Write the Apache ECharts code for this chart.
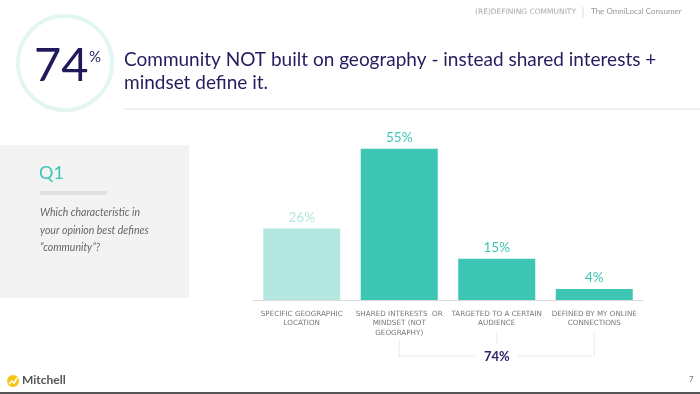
<!DOCTYPE html>
<html><head><meta charset="utf-8">
<script src="https://cdn.jsdelivr.net/npm/echarts@6/dist/echarts.min.js"></script>
<style>html,body{margin:0;padding:0;background:#fff}#c{width:700px;height:394px}</style>
</head><body><div id="c"></div>
<script>
const categories = ["SPECIFIC GEOGRAPHIC\nLOCATION", "SHARED INTERESTS  OR\nMINDSET (NOT\nGEOGRAPHY)", "TARGETED TO A CERTAIN\nAUDIENCE", "DEFINED BY MY ONLINE\nCONNECTIONS"];
const values = [26, 55, 15, 4];
const barColors = ["#b4e7df", "#3ec6b4", "#3ec6b4", "#3ec6b4"];
const labelColors = ["#b4e7df", "#3ec6b4", "#3ec6b4", "#3ec6b4"];
const headline = "74";
const totalLabel = "74%";
const FONT = "Lato";

const chart = echarts.init(document.getElementById('c'), null, {renderer: 'canvas'});
const option = {
  animation: false,
  grid: {left: 253, right: 57, top: 135, bottom: 94},
  xAxis: {
    type: 'category', data: categories,
    axisLine: {lineStyle: {color: '#dcdcdc', width: 1}},
    axisTick: {show: false},
    axisLabel: {interval: 0, color: '#777', fontSize: 7.2, fontFamily: 'DejaVu Sans', lineHeight: 9.5, margin: 9, align: 'center'}
  },
  yAxis: {type: 'value', min: 0, max: 60, show: false, splitLine: {show: false}},
  series: [{
    type: 'bar', barWidth: '79%',
    data: values.map((v, i) => ({value: v, itemStyle: {color: barColors[i]}, label: {color: labelColors[i]}})),
    label: {show: true, position: 'top', distance: 4, formatter: '{c}%', fontSize: 13.5, fontFamily: FONT}
  }],
  graphic: [
    {type: 'circle', shape: {cx: 65, cy: 63, r: 47}, style: {fill: 'none', stroke: '#e4f6f2', lineWidth: 4}},
    {type: 'text', left: 34, top: 42, style: {text: headline, font: '47px ' + FONT, fill: '#1f1a5c'}},
    {type: 'text', left: 89, top: 50, style: {text: '%', font: '15px ' + FONT, fill: '#1f1a5c'}},
    {type: 'text', left: 124, top: 48, style: {text: 'Community NOT built on geography - instead shared interests +\nmindset define it.', font: '19px ' + FONT, fill: '#231d5e', lineHeight: 23}},
    {type: 'line', shape: {x1: 124, y1: 109, x2: 700, y2: 109}, style: {stroke: '#e0e0e0', lineWidth: 1}},
    {type: 'text', left: 475, top: 8, style: {text: '(RE)DEFINING COMMUNITY', font: '7.5px DejaVu Sans', fill: '#aaa'}},
    {type: 'line', shape: {x1: 583, y1: 7, x2: 583, y2: 18}, style: {stroke: '#ddd', lineWidth: 1}},
    {type: 'text', left: 591, top: 7, style: {text: 'The OmniLocal Consumer', font: '8px ' + FONT, fill: '#999'}},
    {type: 'rect', shape: {x: 0, y: 145, width: 189, height: 153}, style: {fill: '#f3f3f3'}, z: -1},
    {type: 'text', left: 39, top: 164, style: {text: 'Q1', font: '18px ' + FONT, fill: '#3ec6b4'}},
    {type: 'rect', shape: {x: 40, y: 191, width: 67, height: 4}, style: {fill: '#e0e0e0'}},
    {type: 'text', left: 40, top: 204, style: {text: 'Which characteristic in\nyour opinion best defines\n\u201ccommunity\u201d?', font: 'italic 10.5px ' + FONT, fill: '#666', lineHeight: 17.5}},
    {type: 'circle', shape: {cx: 13, cy: 381, r: 6}, style: {fill: '#f5c518'}},
    {type: 'polyline', shape: {points: [[9, 384], [12, 381], [14, 383], [17, 378]]}, style: {stroke: '#fff', lineWidth: 1.5, fill: 'none'}},
    {type: 'text', left: 22, top: 374, style: {text: 'Mitchell', font: 'bold 12px ' + FONT, fill: '#555'}},
    {type: 'text', left: 689, top: 375, style: {text: '7', font: '8px ' + FONT, fill: '#777'}},
    {type: 'rect', shape: {x: 0, y: 392, width: 700, height: 2}, style: {fill: '#555'}}
  ]
};
chart.setOption(option);

// bracket summing categories 2-4
const xs = [1, 2, 3].map(i => chart.convertToPixel({xAxisIndex: 0}, i));
const by = 356;
const dot = {stroke: '#d8d8d8', lineWidth: 1, lineDash: [1, 1]};
chart.setOption({graphic: option.graphic.concat([
  {type: 'line', shape: {x1: xs[0], y1: 341, x2: xs[0], y2: by}, style: dot},
  {type: 'line', shape: {x1: xs[1], y1: 332, x2: xs[1], y2: 344}, style: dot},
  {type: 'line', shape: {x1: xs[2], y1: 332, x2: xs[2], y2: by}, style: dot},
  {type: 'line', shape: {x1: xs[0], y1: by, x2: xs[1] - 22, y2: by}, style: dot},
  {type: 'line', shape: {x1: xs[1] + 22, y1: by, x2: xs[2], y2: by}, style: dot},
  {type: 'text', x: xs[1], y: by + 1, style: {text: totalLabel, font: 'bold 13px ' + FONT, fill: '#2a2466', align: 'center', verticalAlign: 'middle'}}
])});
</script>
</body></html>
